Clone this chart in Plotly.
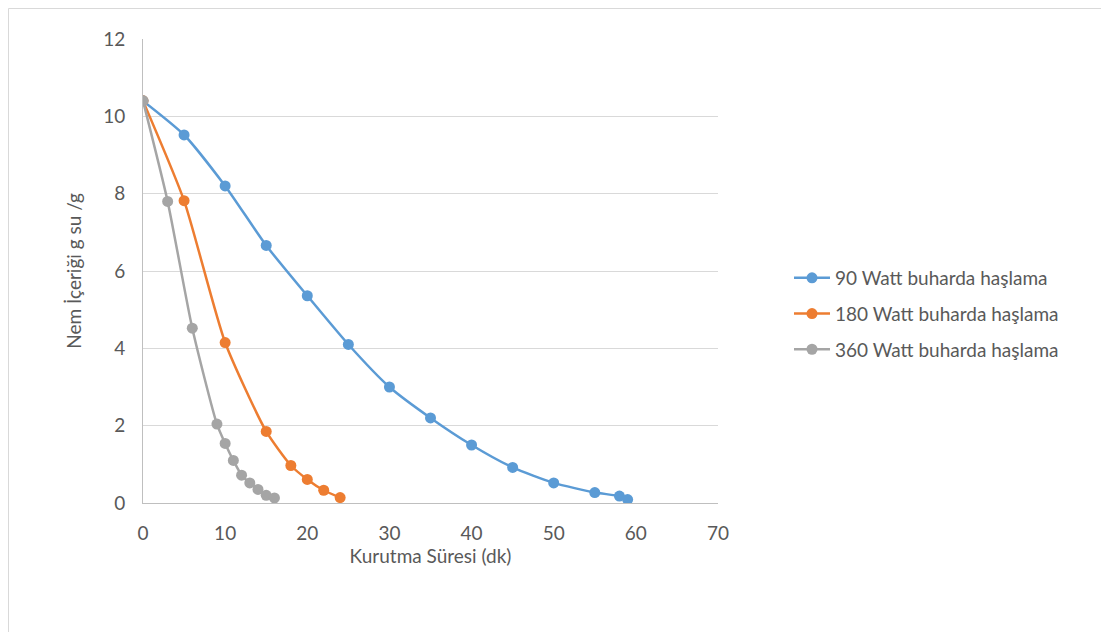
import plotly.graph_objects as go

x90 = [0, 5, 10, 15, 20, 25, 30, 35, 40, 45, 50, 55, 58, 59]
y90 = [10.4, 9.52, 8.2, 6.66, 5.36, 4.1, 3.0, 2.2, 1.5, 0.92, 0.52, 0.27, 0.18, 0.09]

x180 = [0, 5, 10, 15, 18, 20, 22, 24]
y180 = [10.4, 7.82, 4.15, 1.85, 0.97, 0.61, 0.33, 0.14]

x360 = [0, 3, 6, 9, 10, 11, 12, 13, 14, 15, 16]
y360 = [10.4, 7.8, 4.52, 2.04, 1.54, 1.1, 0.72, 0.52, 0.35, 0.2, 0.13]

names = ["90 Watt buharda haşlama", "180 Watt buharda haşlama", "360 Watt buharda haşlama"]
colors = ["#5b9bd5", "#ed7d31", "#a5a5a5"]

fig = go.Figure()
for i, (xs, ys, nm, c) in enumerate([(x90, y90, names[0], colors[0]),
                                     (x180, y180, names[1], colors[1]),
                                     (x360, y360, names[2], colors[2])]):
    fig.add_trace(go.Scatter(
        x=xs, y=ys, name=nm, mode="lines+markers", legendgroup=f"g{i}",
        line=dict(color=c, width=2.5, shape="spline", smoothing=0.6),
        marker=dict(color=c, size=11),
    ))

font_family = "Lato, Open Sans, DejaVu Sans, sans-serif"
W, H = 1109, 632
OFF = 8  # page offset of the figure
L, R, T, B = 143 - OFF, 399, 39 - OFF, 137
pw = W - L - R
ph = H - T - B
fig.update_layout(
    width=W, height=H,
    paper_bgcolor="white", plot_bgcolor="white",
    margin=dict(l=L, r=R, t=T, b=B),
    font=dict(family=font_family, size=19, color="#595959"),
    showlegend=True,
    legend=dict(x=(789 - OFF - L) / pw, y=1 - (314 - OFF - T) / ph, xanchor="left", yanchor="middle",
                font=dict(size=19, color="#595959"),
                tracegroupgap=8, itemwidth=36,
                bgcolor="rgba(0,0,0,0)"),
    xaxis=dict(range=[0, 70], dtick=10, tick0=0, showgrid=False,
               showline=True, linecolor="#bfbfbf", linewidth=1,
               zeroline=False, ticks="", ticklabelstandoff=13,
               tickfont=dict(size=19, color="#595959"),
               title=dict(text="Kurutma Süresi (dk)", font=dict(size=19, color="#595959"), standoff=3)),
    yaxis=dict(range=[0, 12], dtick=2, tick0=0, showgrid=True, gridcolor="#d9d9d9",
               gridwidth=1,
               showline=True, linecolor="#bfbfbf", linewidth=1,
               zeroline=False, ticks="", ticklabelstandoff=13,
               tickfont=dict(size=19, color="#595959"),
               title=dict(text="Nem İçeriği g su /g", font=dict(size=19, color="#595959"), standoff=16)),
)
# outer chart border (left, top, right edges visible)
fig.add_shape(type="rect", xref="paper", yref="paper",
              x0=(0.5 - L) / pw, x1=(1100 - L) / pw,
              y0=-(H + 10 - T - ph) / ph, y1=1 + (T - 0.5) / ph,
              line=dict(color="#d9d9d9", width=1))

fig.write_html("out.html")
